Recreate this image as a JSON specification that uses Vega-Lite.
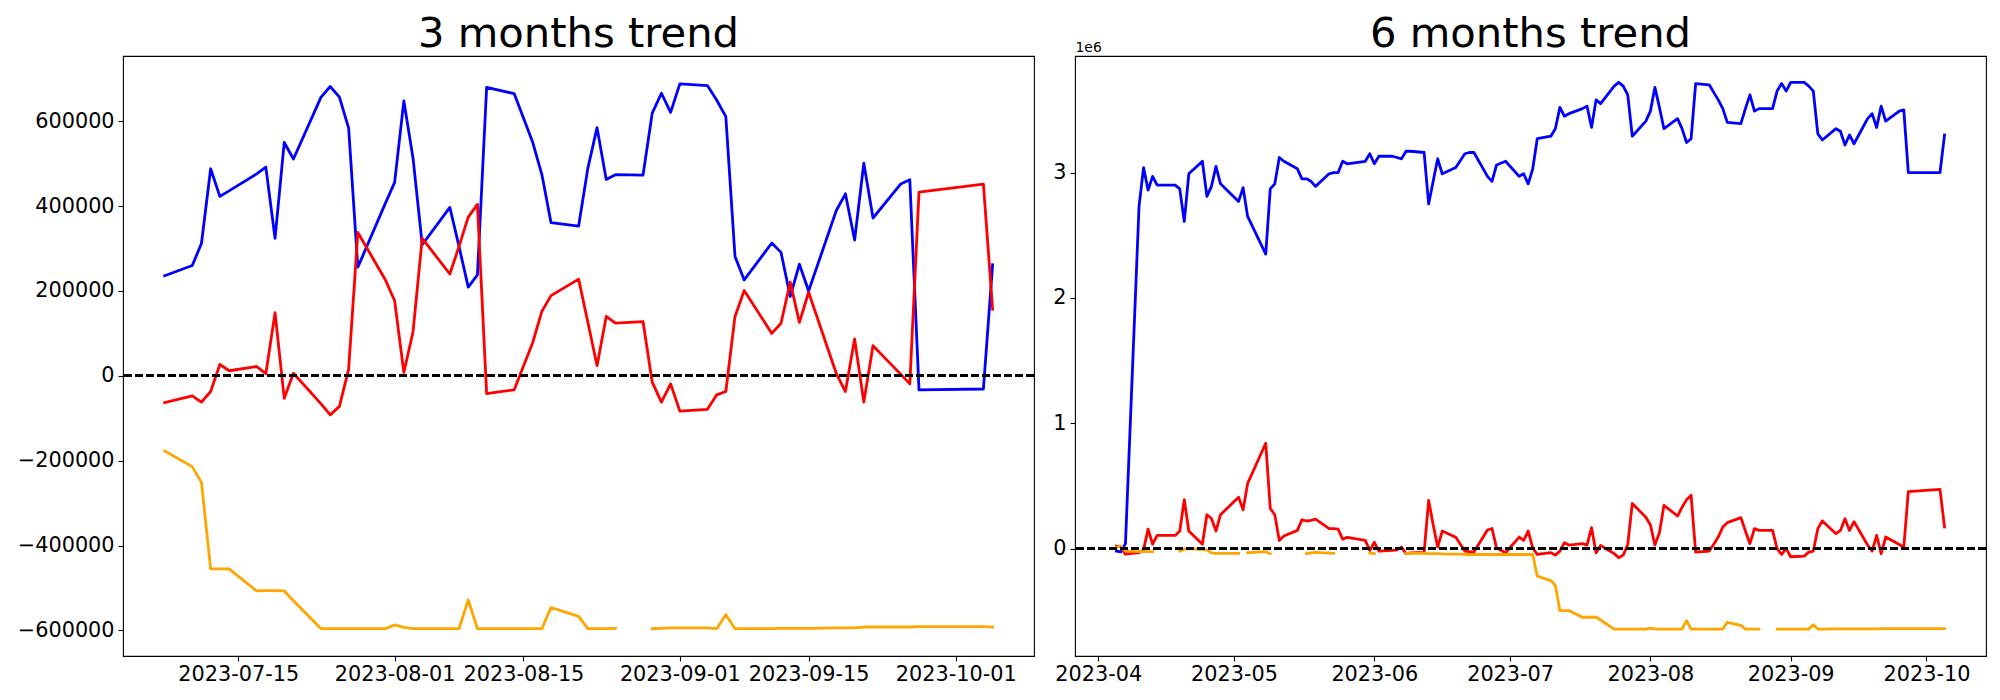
{
  "$schema": "https://vega.github.io/schema/vega-lite/v6.json",
  "padding": {"left": 16, "top": 13, "right": 15, "bottom": 5},
  "background": "white",
  "config": {
    "font": "DejaVu Sans",
    "view": {"stroke": "black", "strokeWidth": 1.1},
    "axis": {"domain": false, "grid": false, "ticks": true, "tickColor": "black", "tickSize": 4.9, "tickWidth": 1.1, "labelColor": "black", "labelFontSize": 20.8, "labelFont": "DejaVu Sans", "labelPadding": 4},
    "title": {"fontSize": 41.7, "fontWeight": "normal", "font": "DejaVu Sans", "color": "black", "anchor": "middle", "baseline": "alphabetic", "frame": "group"},
    "line": {"strokeWidth": 2.8, "strokeJoin": "round", "strokeCap": "square", "invalid": "break-paths-filter-domains"}
  },
  "datasets": {
    "m3": [
      {"date": "2023-07-07", "blue": 236000, "red": -63000, "orange": -177000},
      {"date": "2023-07-10", "blue": 260000, "red": -47000, "orange": -214000},
      {"date": "2023-07-11", "blue": 312000, "red": -62000, "orange": -251000},
      {"date": "2023-07-12", "blue": 488000, "red": -37000, "orange": -455000},
      {"date": "2023-07-13", "blue": 423000, "red": 27000, "orange": -455000},
      {"date": "2023-07-14", "blue": 436000, "red": 12000, "orange": -455000},
      {"date": "2023-07-17", "blue": 476000, "red": 22000, "orange": -507000},
      {"date": "2023-07-18", "blue": 492000, "red": 5000, "orange": -506000},
      {"date": "2023-07-19", "blue": 324000, "red": 149000, "orange": -506000},
      {"date": "2023-07-20", "blue": 550000, "red": -53000, "orange": -507000},
      {"date": "2023-07-21", "blue": 511000, "red": 6000, "orange": -530000},
      {"date": "2023-07-24", "blue": 657000, "red": -66000, "orange": -596000},
      {"date": "2023-07-25", "blue": 682000, "red": -92000, "orange": -596000},
      {"date": "2023-07-26", "blue": 657000, "red": -72000, "orange": -596000},
      {"date": "2023-07-27", "blue": 584000, "red": 16000, "orange": -596000},
      {"date": "2023-07-28", "blue": 256000, "red": 338000, "orange": -596000},
      {"date": "2023-07-31", "blue": 407000, "red": 226000, "orange": -596000},
      {"date": "2023-08-01", "blue": 456000, "red": 177000, "orange": -587000},
      {"date": "2023-08-02", "blue": 648000, "red": 8000, "orange": -593000},
      {"date": "2023-08-03", "blue": 513000, "red": 104000, "orange": -596000},
      {"date": "2023-08-04", "blue": 309000, "red": 324000, "orange": -596000},
      {"date": "2023-08-07", "blue": 397000, "red": 240000, "orange": -596000},
      {"date": "2023-08-08", "blue": 305000, "red": 305000, "orange": -596000},
      {"date": "2023-08-09", "blue": 209000, "red": 374000, "orange": -528000},
      {"date": "2023-08-10", "blue": 238000, "red": 404000, "orange": -596000},
      {"date": "2023-08-11", "blue": 680000, "red": -42000, "orange": -596000},
      {"date": "2023-08-14", "blue": 665000, "red": -33000, "orange": -596000},
      {"date": "2023-08-16", "blue": 551000, "red": 78000, "orange": -596000},
      {"date": "2023-08-17", "blue": 475000, "red": 152000, "orange": -596000},
      {"date": "2023-08-18", "blue": 361000, "red": 189000, "orange": -546000},
      {"date": "2023-08-21", "blue": 353000, "red": 228000, "orange": -567000},
      {"date": "2023-08-22", "blue": 489000, "red": 127000, "orange": -596000},
      {"date": "2023-08-23", "blue": 585000, "red": 24000, "orange": -596000},
      {"date": "2023-08-24", "blue": 463000, "red": 140000, "orange": -596000},
      {"date": "2023-08-25", "blue": 474000, "red": 124000, "orange": -595000},
      {"date": "2023-08-28", "blue": 473000, "red": 128000, "orange": null},
      {"date": "2023-08-29", "blue": 619000, "red": -15000, "orange": -596000},
      {"date": "2023-08-30", "blue": 666000, "red": -62000, "orange": -595000},
      {"date": "2023-08-31", "blue": 621000, "red": -19000, "orange": -594000},
      {"date": "2023-09-01", "blue": 688000, "red": -83000, "orange": -594000},
      {"date": "2023-09-04", "blue": 684000, "red": -79000, "orange": -594000},
      {"date": "2023-09-05", "blue": 650000, "red": -45000, "orange": -596000},
      {"date": "2023-09-06", "blue": 611000, "red": -37000, "orange": -563000},
      {"date": "2023-09-07", "blue": 281000, "red": 140000, "orange": -596000},
      {"date": "2023-09-08", "blue": 226000, "red": 201000, "orange": -596000},
      {"date": "2023-09-11", "blue": 313000, "red": 100000, "orange": -596000},
      {"date": "2023-09-12", "blue": 291000, "red": 124000, "orange": -595000},
      {"date": "2023-09-13", "blue": 187000, "red": 221000, "orange": -595000},
      {"date": "2023-09-14", "blue": 263000, "red": 126000, "orange": -595000},
      {"date": "2023-09-15", "blue": 200000, "red": 197000, "orange": -595000},
      {"date": "2023-09-18", "blue": 389000, "red": 6000, "orange": -594000},
      {"date": "2023-09-19", "blue": 429000, "red": -37000, "orange": -594000},
      {"date": "2023-09-20", "blue": 320000, "red": 87000, "orange": -594000},
      {"date": "2023-09-21", "blue": 501000, "red": -62000, "orange": -592000},
      {"date": "2023-09-22", "blue": 372000, "red": 71000, "orange": -592000},
      {"date": "2023-09-25", "blue": 452000, "red": 4000, "orange": -592000},
      {"date": "2023-09-26", "blue": 462000, "red": -19000, "orange": -592000},
      {"date": "2023-09-27", "blue": -33000, "red": 433000, "orange": -591000},
      {"date": "2023-10-04", "blue": -31000, "red": 452000, "orange": -591000},
      {"date": "2023-10-05", "blue": 262000, "red": 157000, "orange": -592000}
    ],
    "m6": [
      {"date": "2023-04-05", "blue": -20000, "red": 20000, "orange": 10000},
      {"date": "2023-04-06", "blue": -26000, "red": 15000, "orange": 20000},
      {"date": "2023-04-07", "blue": 40000, "red": -45000, "orange": -20000},
      {"date": "2023-04-10", "blue": 2730000, "red": -33000, "orange": -25000},
      {"date": "2023-04-11", "blue": 3040000, "red": -10000, "orange": -25000},
      {"date": "2023-04-12", "blue": 2860000, "red": 155000, "orange": -25000},
      {"date": "2023-04-13", "blue": 2970000, "red": 35000, "orange": -25000},
      {"date": "2023-04-14", "blue": 2900000, "red": 105000, "orange": null},
      {"date": "2023-04-17", "blue": 2900000, "red": 105000, "orange": null},
      {"date": "2023-04-18", "blue": 2900000, "red": 105000, "orange": null},
      {"date": "2023-04-19", "blue": 2870000, "red": 140000, "orange": -20000},
      {"date": "2023-04-20", "blue": 2610000, "red": 390000, "orange": -5000},
      {"date": "2023-04-21", "blue": 2990000, "red": 140000, "orange": 0},
      {"date": "2023-04-24", "blue": 3090000, "red": 35000, "orange": -8000},
      {"date": "2023-04-25", "blue": 2810000, "red": 270000, "orange": -10000},
      {"date": "2023-04-26", "blue": 2890000, "red": 240000, "orange": -35000},
      {"date": "2023-04-27", "blue": 3050000, "red": 140000, "orange": -38000},
      {"date": "2023-04-28", "blue": 2910000, "red": 270000, "orange": -38000},
      {"date": "2023-05-02", "blue": 2770000, "red": 410000, "orange": -38000},
      {"date": "2023-05-03", "blue": 2880000, "red": 310000, "orange": null},
      {"date": "2023-05-04", "blue": 2650000, "red": 520000, "orange": -33000},
      {"date": "2023-05-08", "blue": 2350000, "red": 840000, "orange": -25000},
      {"date": "2023-05-09", "blue": 2870000, "red": 320000, "orange": -41000},
      {"date": "2023-05-10", "blue": 2910000, "red": 270000, "orange": null},
      {"date": "2023-05-11", "blue": 3120000, "red": 65000, "orange": null},
      {"date": "2023-05-12", "blue": 3090000, "red": 100000, "orange": null},
      {"date": "2023-05-15", "blue": 3030000, "red": 145000, "orange": null},
      {"date": "2023-05-16", "blue": 2950000, "red": 230000, "orange": null},
      {"date": "2023-05-17", "blue": 2950000, "red": 220000, "orange": -41000},
      {"date": "2023-05-18", "blue": 2930000, "red": 225000, "orange": -35000},
      {"date": "2023-05-19", "blue": 2890000, "red": 235000, "orange": -30000},
      {"date": "2023-05-22", "blue": 2990000, "red": 160000, "orange": -36000},
      {"date": "2023-05-23", "blue": 3000000, "red": 160000, "orange": -38000},
      {"date": "2023-05-24", "blue": 3000000, "red": 155000, "orange": null},
      {"date": "2023-05-25", "blue": 3090000, "red": 75000, "orange": null},
      {"date": "2023-05-26", "blue": 3070000, "red": 90000, "orange": null},
      {"date": "2023-05-30", "blue": 3090000, "red": 65000, "orange": null},
      {"date": "2023-05-31", "blue": 3150000, "red": -15000, "orange": -36000},
      {"date": "2023-06-01", "blue": 3070000, "red": 50000, "orange": -41000},
      {"date": "2023-06-02", "blue": 3130000, "red": -20000, "orange": null},
      {"date": "2023-06-05", "blue": 3130000, "red": -15000, "orange": null},
      {"date": "2023-06-06", "blue": 3120000, "red": -10000, "orange": null},
      {"date": "2023-06-07", "blue": 3110000, "red": 12000, "orange": null},
      {"date": "2023-06-08", "blue": 3170000, "red": -40000, "orange": -38000},
      {"date": "2023-06-09", "blue": 3170000, "red": -35000, "orange": -38000},
      {"date": "2023-06-12", "blue": 3160000, "red": -30000, "orange": -38000},
      {"date": "2023-06-13", "blue": 2750000, "red": 385000, "orange": -40000},
      {"date": "2023-06-14", "blue": 2930000, "red": 190000, "orange": -40000},
      {"date": "2023-06-15", "blue": 3110000, "red": 12000, "orange": -40000},
      {"date": "2023-06-16", "blue": 2990000, "red": 140000, "orange": -42000},
      {"date": "2023-06-19", "blue": 3040000, "red": 90000, "orange": -45000},
      {"date": "2023-06-21", "blue": 3150000, "red": -20000, "orange": -47000},
      {"date": "2023-06-22", "blue": 3160000, "red": -25000, "orange": -47000},
      {"date": "2023-06-23", "blue": 3160000, "red": -28000, "orange": -47000},
      {"date": "2023-06-26", "blue": 2970000, "red": 148000, "orange": -47000},
      {"date": "2023-06-27", "blue": 2930000, "red": 160000, "orange": -47000},
      {"date": "2023-06-28", "blue": 3060000, "red": 6000, "orange": -47000},
      {"date": "2023-06-30", "blue": 3090000, "red": -33000, "orange": -47000},
      {"date": "2023-07-03", "blue": 2970000, "red": 92000, "orange": -47000},
      {"date": "2023-07-04", "blue": 2990000, "red": 65000, "orange": -47000},
      {"date": "2023-07-05", "blue": 2910000, "red": 140000, "orange": -47000},
      {"date": "2023-07-06", "blue": 3030000, "red": 6000, "orange": -47000},
      {"date": "2023-07-07", "blue": 3270000, "red": -47000, "orange": -220000},
      {"date": "2023-07-10", "blue": 3290000, "red": -33000, "orange": -255000},
      {"date": "2023-07-11", "blue": 3350000, "red": -52000, "orange": -295000},
      {"date": "2023-07-12", "blue": 3520000, "red": -20000, "orange": -495000},
      {"date": "2023-07-13", "blue": 3450000, "red": 47000, "orange": -495000},
      {"date": "2023-07-14", "blue": 3470000, "red": 28000, "orange": -495000},
      {"date": "2023-07-17", "blue": 3510000, "red": 39000, "orange": -548000},
      {"date": "2023-07-18", "blue": 3530000, "red": 28000, "orange": -548000},
      {"date": "2023-07-19", "blue": 3360000, "red": 167000, "orange": -548000},
      {"date": "2023-07-20", "blue": 3580000, "red": -33000, "orange": -548000},
      {"date": "2023-07-21", "blue": 3550000, "red": 25000, "orange": -570000},
      {"date": "2023-07-24", "blue": 3690000, "red": -40000, "orange": -642000},
      {"date": "2023-07-25", "blue": 3720000, "red": -73000, "orange": -642000},
      {"date": "2023-07-26", "blue": 3690000, "red": -52000, "orange": -642000},
      {"date": "2023-07-27", "blue": 3620000, "red": 33000, "orange": -642000},
      {"date": "2023-07-28", "blue": 3290000, "red": 360000, "orange": -642000},
      {"date": "2023-07-31", "blue": 3410000, "red": 250000, "orange": -642000},
      {"date": "2023-08-01", "blue": 3490000, "red": 190000, "orange": -635000},
      {"date": "2023-08-02", "blue": 3680000, "red": 28000, "orange": -640000},
      {"date": "2023-08-03", "blue": 3520000, "red": 127000, "orange": -642000},
      {"date": "2023-08-04", "blue": 3350000, "red": 345000, "orange": -642000},
      {"date": "2023-08-07", "blue": 3430000, "red": 260000, "orange": -642000},
      {"date": "2023-08-08", "blue": 3350000, "red": 330000, "orange": -642000},
      {"date": "2023-08-09", "blue": 3240000, "red": 390000, "orange": -575000},
      {"date": "2023-08-10", "blue": 3270000, "red": 425000, "orange": -642000},
      {"date": "2023-08-11", "blue": 3710000, "red": -28000, "orange": -642000},
      {"date": "2023-08-14", "blue": 3700000, "red": -20000, "orange": -642000},
      {"date": "2023-08-15", "blue": 3640000, "red": 35000, "orange": -642000},
      {"date": "2023-08-16", "blue": 3580000, "red": 92000, "orange": -642000},
      {"date": "2023-08-17", "blue": 3510000, "red": 172000, "orange": -642000},
      {"date": "2023-08-18", "blue": 3400000, "red": 207000, "orange": -588000},
      {"date": "2023-08-21", "blue": 3390000, "red": 247000, "orange": -612000},
      {"date": "2023-08-22", "blue": 3510000, "red": 140000, "orange": -642000},
      {"date": "2023-08-23", "blue": 3620000, "red": 39000, "orange": -642000},
      {"date": "2023-08-24", "blue": 3490000, "red": 159000, "orange": -642000},
      {"date": "2023-08-25", "blue": 3510000, "red": 145000, "orange": -642000},
      {"date": "2023-08-28", "blue": 3510000, "red": 145000, "orange": null},
      {"date": "2023-08-29", "blue": 3650000, "red": -1000, "orange": -642000},
      {"date": "2023-08-30", "blue": 3710000, "red": -47000, "orange": -642000},
      {"date": "2023-08-31", "blue": 3650000, "red": 1000, "orange": -642000},
      {"date": "2023-09-01", "blue": 3720000, "red": -65000, "orange": -642000},
      {"date": "2023-09-04", "blue": 3720000, "red": -60000, "orange": -642000},
      {"date": "2023-09-05", "blue": 3690000, "red": -28000, "orange": -642000},
      {"date": "2023-09-06", "blue": 3650000, "red": -20000, "orange": -607000},
      {"date": "2023-09-07", "blue": 3310000, "red": 159000, "orange": -642000},
      {"date": "2023-09-08", "blue": 3260000, "red": 220000, "orange": -642000},
      {"date": "2023-09-11", "blue": 3350000, "red": 119000, "orange": -641000},
      {"date": "2023-09-12", "blue": 3330000, "red": 145000, "orange": -641000},
      {"date": "2023-09-13", "blue": 3220000, "red": 239000, "orange": -641000},
      {"date": "2023-09-14", "blue": 3300000, "red": 145000, "orange": -641000},
      {"date": "2023-09-15", "blue": 3230000, "red": 215000, "orange": -641000},
      {"date": "2023-09-18", "blue": 3430000, "red": 28000, "orange": -640000},
      {"date": "2023-09-19", "blue": 3470000, "red": -20000, "orange": -640000},
      {"date": "2023-09-20", "blue": 3360000, "red": 105000, "orange": -640000},
      {"date": "2023-09-21", "blue": 3530000, "red": -41000, "orange": -638000},
      {"date": "2023-09-22", "blue": 3410000, "red": 92000, "orange": -638000},
      {"date": "2023-09-25", "blue": 3490000, "red": 33000, "orange": -638000},
      {"date": "2023-09-26", "blue": 3500000, "red": 7000, "orange": -638000},
      {"date": "2023-09-27", "blue": 3000000, "red": 455000, "orange": -638000},
      {"date": "2023-10-04", "blue": 3000000, "red": 473000, "orange": -638000},
      {"date": "2023-10-05", "blue": 3300000, "red": 172000, "orange": -638000}
    ]
  },
  "spacing": 41,
  "bounds": "flush",
  "hconcat": [
    {
      "width": 911,
      "height": 600,
      "title": {"text": "3 months trend", "offset": 0.5},
      "data": {"name": "m3"},
      "layer": [
        {"mark": {"type": "line", "color": "#0000ff"}, "encoding": {
          "x": {"field": "date", "type": "temporal", "title": null,
            "scale": {"type": "utc", "domain": [{"year": 2023, "month": 7, "date": 2, "hours": 11, "minutes": 20, "utc": true}, {"year": 2023, "month": 10, "date": 9, "hours": 12, "utc": true}]},
            "axis": {"format": "%Y-%m-%d", "labelAngle": 0, "labelFlush": false, "labelOverlap": false,
              "values": [{"year": 2023, "month": 7, "date": 15, "utc": true}, {"year": 2023, "month": 8, "date": 1, "utc": true}, {"year": 2023, "month": 8, "date": 15, "utc": true}, {"year": 2023, "month": 9, "date": 1, "utc": true}, {"year": 2023, "month": 9, "date": 15, "utc": true}, {"year": 2023, "month": 10, "date": 1, "utc": true}]}},
          "y": {"field": "blue", "type": "quantitative", "title": null, "scale": {"domain": [-660300, 753800], "nice": false, "zero": false}, "axis": {"format": "d", "values": [-600000, -400000, -200000, 0, 200000, 400000, 600000], "labelOverlap": false}}}},
        {"mark": {"type": "line", "color": "#ff0000"}, "encoding": {"x": {"field": "date", "type": "temporal", "title": null}, "y": {"field": "red", "type": "quantitative", "title": null}}},
        {"mark": {"type": "line", "color": "#ffa500"}, "encoding": {"x": {"field": "date", "type": "temporal", "title": null}, "y": {"field": "orange", "type": "quantitative", "title": null}}},
        {"mark": {"type": "rule", "color": "black", "strokeDash": [7.7, 3.3], "strokeWidth": 2.1}, "encoding": {"y": {"datum": 0, "type": "quantitative", "title": null}}}
      ]
    },
    {
      "width": 911,
      "height": 600,
      "title": {"text": "6 months trend", "offset": -16},
      "data": {"name": "m6"},
      "layer": [
        {"mark": {"type": "line", "color": "#0000ff"}, "encoding": {
          "x": {"field": "date", "type": "temporal", "title": null,
            "scale": {"type": "utc", "domain": [{"year": 2023, "month": 3, "date": 26, "hours": 20, "minutes": 24, "utc": true}, {"year": 2023, "month": 10, "date": 14, "hours": 4, "utc": true}]},
            "axis": {"format": "%Y-%m", "labelAngle": 0, "labelFlush": false, "labelOverlap": false,
              "values": [{"year": 2023, "month": 4, "date": 1, "utc": true}, {"year": 2023, "month": 5, "date": 1, "utc": true}, {"year": 2023, "month": 6, "date": 1, "utc": true}, {"year": 2023, "month": 7, "date": 1, "utc": true}, {"year": 2023, "month": 8, "date": 1, "utc": true}, {"year": 2023, "month": 9, "date": 1, "utc": true}, {"year": 2023, "month": 10, "date": 1, "utc": true}]}},
          "y": {"field": "blue", "type": "quantitative", "title": "1e6", "scale": {"domain": [-857000, 3930000], "nice": false, "zero": false}, "axis": {"values": [0, 1000000, 2000000, 3000000], "labelExpr": "format(datum.value / 1000000, 'd')", "labelOverlap": false, "titleAngle": 0, "titleAlign": "left", "titleBaseline": "alphabetic", "titleX": 0, "titleY": -5, "titleFontSize": 13.9, "titleFontWeight": "normal", "titleColor": "black", "titleFont": "DejaVu Sans"}}}},
        {"mark": {"type": "line", "color": "#ff0000"}, "encoding": {"x": {"field": "date", "type": "temporal", "title": null}, "y": {"field": "red", "type": "quantitative", "title": "1e6"}}},
        {"mark": {"type": "line", "color": "#ffa500"}, "encoding": {"x": {"field": "date", "type": "temporal", "title": null}, "y": {"field": "orange", "type": "quantitative", "title": "1e6"}}},
        {"mark": {"type": "rule", "color": "black", "strokeDash": [7.7, 3.3], "strokeWidth": 2.1}, "encoding": {"y": {"datum": 0, "type": "quantitative", "title": "1e6"}}}
      ]
    }
  ]
}
